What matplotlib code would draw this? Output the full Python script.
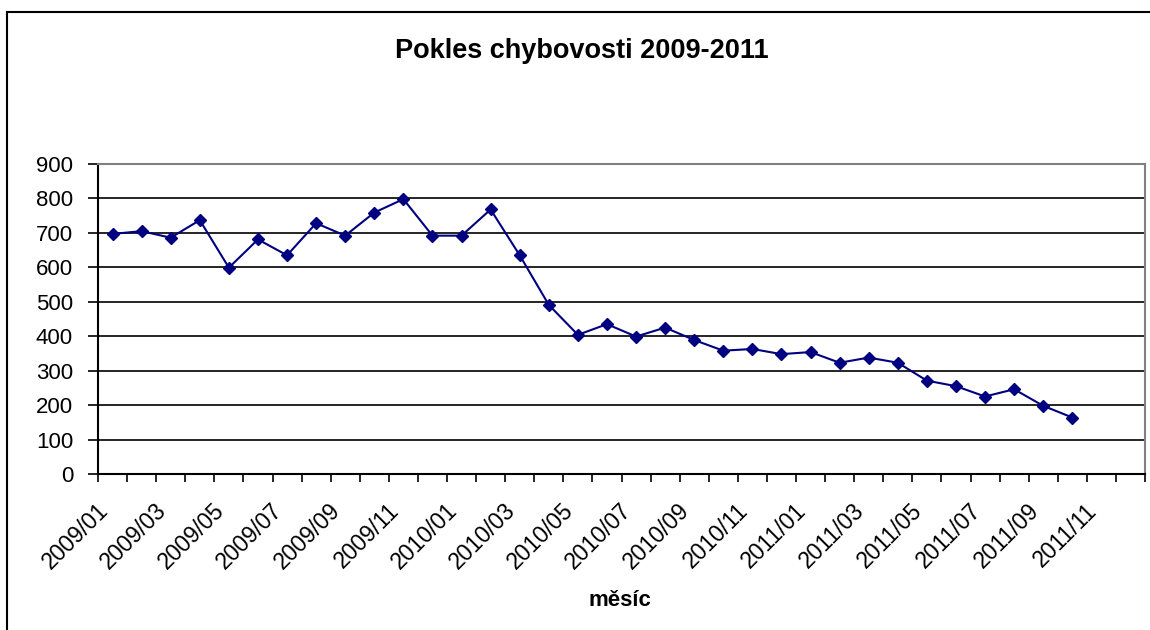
import matplotlib
matplotlib.use("Agg")
import matplotlib.pyplot as plt
import matplotlib.transforms as mtransforms
from matplotlib.patches import Rectangle

plt.rcParams["font.family"] = ["Liberation Sans", "DejaVu Sans"]

# ─────────────────────────────────────────
# Data
# ─────────────────────────────────────────
months = [f"{y}/{m:02d}" for y in (2009, 2010, 2011) for m in range(1, 13)]
errors = [697, 705, 686, 737, 599, 681, 635, 728, 692, 759, 798, 692,
          692, 768, 635, 491, 404, 435, 399, 425, 389, 358, 363, 348,
          354, 323, 338, 323, 271, 255, 225, 246, 198, 164]
yticks = [0, 100, 200, 300, 400, 500, 600, 700, 800, 900]

W, H = 1150, 630
fig = plt.figure(figsize=(W / 100, H / 100), dpi=100)
fig.patch.set_facecolor("white")

# outer chart frame (runs off the right/bottom edge like the source)
fig.patches.append(Rectangle((7 / W, -0.05), 1.2, (H - 12) / H + 0.05,
                             transform=fig.transFigure, fill=False,
                             edgecolor="black", linewidth=1.5))

ax = fig.add_axes([98 / W, (H - 474) / H, (1145 - 98) / W, (474 - 164) / H])

n = len(months)
xs = [i + 0.5 for i in range(len(errors))]
ax.plot(xs, errors, color="#000080", linewidth=1.5, marker="D",
        markersize=6.5, markerfacecolor="#000080", markeredgecolor="#000080",
        zorder=3)

ax.set_xlim(0, n)
ax.set_ylim(0, 900)
ax.set_yticks(yticks)
ax.yaxis.grid(True, color="black", linewidth=1.2)
ax.set_axisbelow(True)

# category boundaries get tick marks, labels sit on every other category
ax.set_xticks(range(n + 1))
ax.set_xticklabels([])
ax.set_xticks([i + 0.5 for i in range(0, n, 2)], minor=True)
ax.set_xticklabels(months[::2], minor=True, rotation=45, ha="right",
                   va="center", rotation_mode="anchor", fontsize=16.5)
ax.tick_params(axis="x", which="minor", length=0, pad=0)
ax.tick_params(axis="x", which="major", length=6, width=1.2, direction="out")
ax.tick_params(axis="y", length=7, width=1.2, pad=11, labelsize=16)

offset = mtransforms.ScaledTranslation(-8 / 100, -33 / 100, fig.dpi_scale_trans)
for lbl in ax.get_xticklabels(minor=True):
    lbl.set_transform(lbl.get_transform() + offset)

for side in ("left", "bottom"):
    ax.spines[side].set_color("black")
    ax.spines[side].set_linewidth(1.5)
for side in ("top", "right"):
    ax.spines[side].set_color("#808080")
    ax.spines[side].set_linewidth(1.5)

fig.text(582 / W, 1 - 51 / H, "Pokles chybovosti 2009-2011", ha="center",
         va="center", fontsize=19.5, fontweight="bold")
fig.text(620 / W, 1 - 600 / H, "měsíc", ha="center", va="center",
         fontsize=16, fontweight="bold")

fig.savefig("out.png", dpi=100, facecolor="white")
